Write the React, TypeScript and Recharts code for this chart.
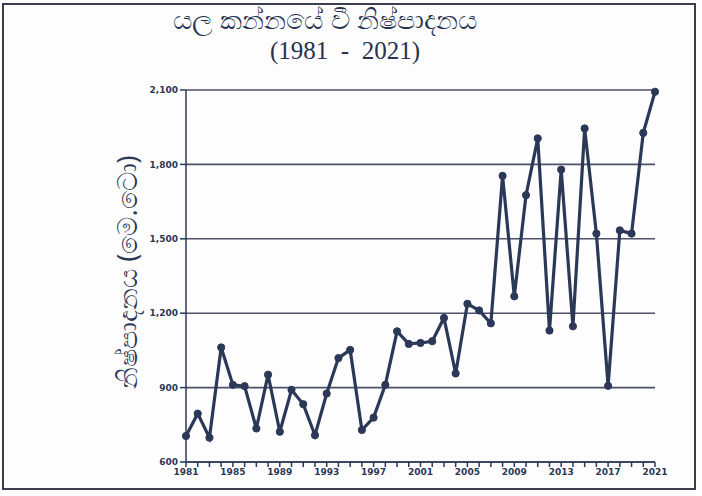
import React from 'react';
import { LineChart, Line, XAxis, YAxis, CartesianGrid } from 'recharts';

const years = [
  1981, 1982, 1983, 1984, 1985, 1986, 1987, 1988, 1989, 1990,
  1991, 1992, 1993, 1994, 1995, 1996, 1997, 1998, 1999, 2000,
  2001, 2002, 2003, 2004, 2005, 2006, 2007, 2008, 2009, 2010,
  2011, 2012, 2013, 2014, 2015, 2016, 2017, 2018, 2019, 2020, 2021,
];

const production = [
  705, 795, 698, 1062, 911, 906, 735, 952, 722, 891,
  833, 708, 876, 1019, 1052, 729, 779, 911, 1127, 1076,
  1080, 1087, 1181, 957, 1238, 1211, 1159, 1754, 1268, 1676,
  1905, 1130, 1779, 1147, 1945, 1521, 907, 1534, 1521, 1927, 2093,
];

const yTicks = [600, 900, 1200, 1500, 1800, 2100];
const labelYears = [1981, 1985, 1989, 1993, 1997, 2001, 2005, 2009, 2013, 2017, 2021];

const data = years.map((year, i) => ({ year, value: production[i] }));

const INK = '#2c3857';
const GRID = '#4b5269';

const YLabel = () => (
  <text
    x={126}
    y={272}
    transform="rotate(-90, 126, 272)"
    textAnchor="middle"
    dominantBaseline="central"
    fill={INK}
    fontSize={27}
    fontFamily="'Noto Sans', 'DejaVu Sans', sans-serif"
  >
    නිෂ්පාදනය (මෙ.ටො)
  </text>
);

export default function App() {
  return (
    <div
      style={{
        position: 'absolute',
        left: 0,
        top: 0,
        width: 702,
        height: 496,
        background: '#fdfdfd',
        overflow: 'hidden',
      }}
    >
      <div
        style={{
          position: 'absolute',
          left: 2,
          top: 3,
          width: 694,
          height: 487,
          border: '2px solid #3a3f4e',
          boxSizing: 'border-box',
        }}
      />
      <div
        style={{
          position: 'absolute',
          left: 140,
          width: 370,
          top: 0,
          textAlign: 'center',
          fontSize: 27,
          lineHeight: '37px',
          color: '#26324f',
          fontFamily: "'Noto Sans', 'DejaVu Sans', sans-serif",
        }}
      >
        යල කන්නයේ වී නිෂ්පාදනය
      </div>
      <div
        style={{
          position: 'absolute',
          left: 200,
          width: 290,
          top: 38,
          textAlign: 'center',
          fontSize: 25,
          lineHeight: '26px',
          color: '#26324f',
          fontFamily: "'Liberation Serif', 'DejaVu Serif', serif",
        }}
      >
        (1981&nbsp;&nbsp;-&nbsp;&nbsp;2021)
      </div>
      <div style={{ position: 'absolute', left: 0, top: 0 }}>
        <LineChart
          width={702}
          height={496}
          data={data}
          margin={{ top: 90, right: 47, bottom: 14, left: 0 }}
        >
          <CartesianGrid
            yAxisId="left"
            horizontal
            vertical={false}
            stroke={GRID}
            strokeWidth={1.6}
          />
          <XAxis
            dataKey="year"
            type="number"
            domain={[1981, 2021]}
            ticks={years}
            interval={0}
            tickFormatter={(v: number) => (labelYears.includes(v) ? String(v) : '')}
            height={20}
            tickSize={5}
            axisLine={{ stroke: INK, strokeWidth: 1.5 }}
            tickLine={{ stroke: INK, strokeWidth: 1.5 }}
            tick={{ fill: INK, fontSize: 9, fontWeight: 700, fontFamily: "'DejaVu Sans', sans-serif" }}
          />
          <YAxis
            yAxisId="left"
            domain={[600, 2100]}
            ticks={yTicks}
            width={186}
            tickSize={6}
            tickFormatter={(v: number) => v.toLocaleString('en-US')}
            axisLine={{ stroke: INK, strokeWidth: 1.5 }}
            tickLine={{ stroke: INK, strokeWidth: 1.5 }}
            tick={{ fill: INK, fontSize: 9, fontWeight: 700, fontFamily: "'DejaVu Sans', sans-serif" }}
            label={<YLabel />}
          />
          <YAxis
            yAxisId="right"
            orientation="right"
            domain={[600, 2100]}
            ticks={yTicks}
            width={0}
            tick={false}
            tickLine={false}
            axisLine={{ stroke: INK, strokeWidth: 1.5 }}
          />
          <Line
            yAxisId="left"
            type="linear"
            dataKey="value"
            stroke={INK}
            strokeWidth={3.2}
            dot={{ r: 3.6, fill: INK, stroke: INK, strokeWidth: 1 }}
            isAnimationActive={false}
          />
        </LineChart>
      </div>
    </div>
  );
}
